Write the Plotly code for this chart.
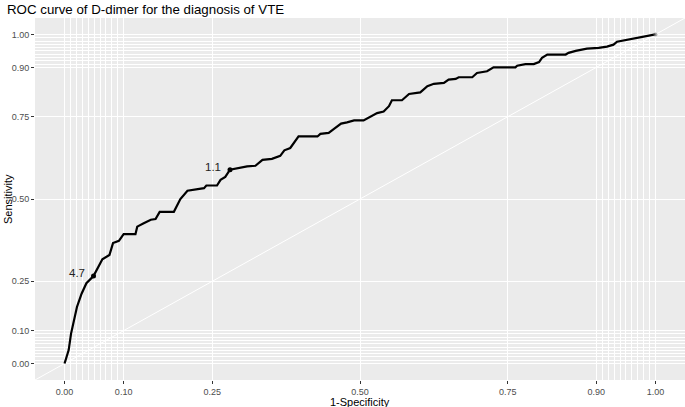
import plotly.graph_objects as go

# ROC curve (1-Specificity, Sensitivity)
fpr = [0.000, 0.007, 0.011, 0.016, 0.021, 0.029, 0.037, 0.049, 0.058, 0.064,
       0.076, 0.082, 0.092, 0.100, 0.120, 0.123, 0.134, 0.146, 0.154, 0.161,
       0.185, 0.191, 0.196, 0.208, 0.222, 0.236, 0.240, 0.258, 0.264, 0.272,
       0.280, 0.295, 0.309, 0.323, 0.335, 0.351, 0.365, 0.372, 0.382, 0.396,
       0.428, 0.433, 0.447, 0.456, 0.468, 0.478, 0.490, 0.506, 0.518, 0.529,
       0.540, 0.549, 0.554, 0.571, 0.583, 0.602, 0.614, 0.625, 0.642, 0.650,
       0.662, 0.667, 0.690, 0.698, 0.715, 0.726, 0.763, 0.766, 0.780, 0.794,
       0.803, 0.808, 0.817, 0.848, 0.853, 0.865, 0.884, 0.904, 0.918, 0.929,
       0.935, 0.944, 0.952, 0.969, 0.980, 0.986, 0.997, 1.000]
tpr = [0.000, 0.041, 0.091, 0.132, 0.172, 0.213, 0.244, 0.266, 0.299, 0.317,
       0.330, 0.366, 0.373, 0.393, 0.393, 0.416, 0.426, 0.437, 0.439, 0.461,
       0.461, 0.482, 0.500, 0.525, 0.528, 0.533, 0.541, 0.541, 0.558, 0.567,
       0.589, 0.594, 0.599, 0.601, 0.619, 0.622, 0.631, 0.648, 0.655, 0.690,
       0.690, 0.698, 0.701, 0.713, 0.729, 0.733, 0.739, 0.739, 0.751, 0.761,
       0.766, 0.782, 0.800, 0.800, 0.819, 0.824, 0.843, 0.850, 0.853, 0.863,
       0.865, 0.870, 0.870, 0.883, 0.888, 0.900, 0.900, 0.905, 0.910, 0.910,
       0.916, 0.929, 0.939, 0.939, 0.944, 0.950, 0.957, 0.959, 0.963, 0.969,
       0.978, 0.981, 0.985, 0.990, 0.993, 0.997, 1.000, 1.000]

# labelled cutoffs
cut_labels = ["4.7", "1.1"]
cut_fpr = [0.049, 0.280]
cut_tpr = [0.266, 0.589]

major_breaks = [0, 0.1, 0.25, 0.5, 0.75, 0.9, 1]
major_labels = ["0.00", "0.10", "0.25", "0.50", "0.75", "0.90", "1.00"]
minor_breaks = [round(i * 0.01, 2) for i in range(0, 11)] + [round(0.9 + i * 0.01, 2) for i in range(0, 11)]

FONT = "Liberation Sans, Arial, sans-serif"

fig = go.Figure()

# diagonal reference line
fig.add_trace(go.Scatter(x=[-0.05, 1.05], y=[-0.05, 1.05], mode="lines",
                         line=dict(color="white", width=1), hoverinfo="skip",
                         showlegend=False))

# ROC curve
fig.add_trace(go.Scatter(x=fpr, y=tpr, mode="lines",
                         line=dict(color="black", width=2.2), showlegend=False))

# end point marker
fig.add_trace(go.Scatter(x=[fpr[-1]], y=[tpr[-1]], mode="markers",
                         marker=dict(color="rgba(120,120,120,0.6)", size=4),
                         showlegend=False))

# cutoff points
fig.add_trace(go.Scatter(x=cut_fpr, y=cut_tpr, mode="markers",
                         marker=dict(color="black", size=5), showlegend=False))

for lab, cx, cy in zip(cut_labels, cut_fpr, cut_tpr):
    fig.add_annotation(x=cx, y=cy, text=lab, showarrow=False, xanchor="right",
                       yanchor="middle", xshift=-7, yshift=3,
                       font=dict(family=FONT, size=11.5, color="#222222"))

axis_common = dict(
    range=[-0.05, 1.05], tickvals=major_breaks, ticktext=major_labels,
    showgrid=True, gridcolor="white", gridwidth=1.1, zeroline=False,
    ticks="outside", ticklen=3, tickwidth=1, tickcolor="#333333",
    tickfont=dict(family=FONT, size=9, color="#4D4D4D"),
    showline=False, fixedrange=True, automargin=False,
    minor=dict(tickvals=minor_breaks, showgrid=True, gridcolor="white",
               gridwidth=0.5, ticks=""),
)

fig.update_xaxes(**axis_common)
fig.update_yaxes(**axis_common)

fig.add_annotation(text="1-Specificity", xref="paper", yref="paper", x=0.5, y=0,
                   yanchor="middle", yshift=-22, showarrow=False,
                   font=dict(family=FONT, size=11, color="black"))
fig.add_annotation(text="Sensitivity", xref="paper", yref="paper", x=0, y=0.5,
                   xanchor="center", xshift=-27, textangle=-90, showarrow=False,
                   font=dict(family=FONT, size=11, color="black"))

fig.update_layout(
    width=685, height=407,
    margin=dict(l=35, r=0, t=18, b=27, autoexpand=False),
    plot_bgcolor="#EBEBEB", paper_bgcolor="white",
    title=dict(text="ROC curve of D-dimer for the diagnosis of VTE",
               xref="container", x=7 / 685, xanchor="left",
               yref="container", y=1 - 9 / 407, yanchor="middle",
               font=dict(family=FONT, size=13.3, color="black")),
    showlegend=False,
)

fig.write_html("out.html", config={"displayModeBar": False},
               post_script="document.body.style.margin='0';document.body.style.overflow='hidden';")
